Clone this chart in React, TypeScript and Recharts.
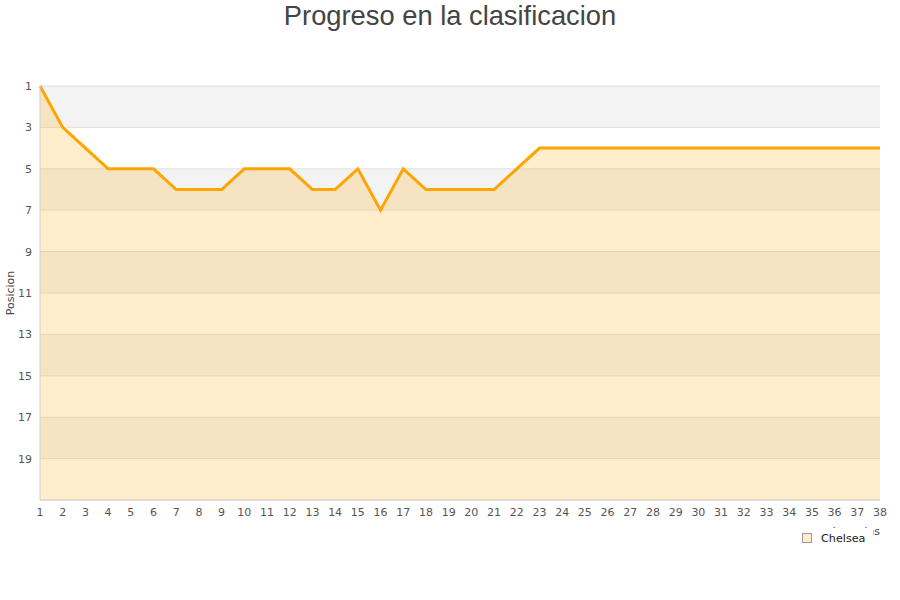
import React from 'react';
import { ComposedChart, Area, XAxis, YAxis, CartesianGrid, Legend } from 'recharts';

const jornadas: number[] = [1,2,3,4,5,6,7,8,9,10,11,12,13,14,15,16,17,18,19,20,21,22,23,24,25,26,27,28,29,30,31,32,33,34,35,36,37,38];
const chelsea: number[] = [1,3,4,5,5,5,6,6,6,5,5,5,6,6,5,7,5,6,6,6,6,5,4,4,4,4,4,4,4,4,4,4,4,4,4,4,4,4];
const yTicks: number[] = [1,3,5,7,9,11,13,15,17,19];
const seriesName = 'Chelsea';
const title = 'Progreso en la clasificacion';

const data = jornadas.map((j, i) => ({ jornada: j, pos: chelsea[i] }));

const tickStyle = { fontFamily: 'DejaVu Sans', fontSize: 11, fill: '#555' };

const renderLegend = (props: any) => {
  const payload = props.payload || [];
  return (
    <div style={{ display: 'flex', alignItems: 'center', background: '#fff', height: 20, fontFamily: 'DejaVu Sans', fontSize: 11.2, color: '#222' }}>
      {payload.map((e: any, i: number) => (
        <div key={i} style={{ display: 'flex', alignItems: 'center' }}>
          <span style={{ display: 'inline-block', width: 8, height: 8, background: '#ffedcc', border: '1px solid #999', marginRight: 9 }} />
          <span>{e.value}</span>
        </div>
      ))}
    </div>
  );
};

export default function App() {
  return (
    <div style={{ position: 'absolute', left: 0, top: 0, width: 900, height: 600, background: '#fff' }}>
      <div style={{ position: 'absolute', left: 0, top: 0, width: 900, textAlign: 'center', fontFamily: 'Liberation Sans, Arial, sans-serif', fontSize: 27.3, color: '#444', lineHeight: '32px' }}>
        {title}
      </div>
      <ComposedChart width={900} height={600} data={data} margin={{ top: 86, right: 20, bottom: 65, left: 0 }}>
        <CartesianGrid vertical={false} stroke="#e0e0e0" horizontalFill={['#f3f3f3', '#ffffff']} />
        <XAxis
          dataKey="jornada"
          type="number"
          domain={[1, 38]}
          ticks={jornadas}
          interval={0}
          height={35}
          tickLine={false}
          axisLine={{ stroke: '#d0d0d0' }}
          tick={tickStyle}
          label={{ value: 'Jornadas', position: 'insideBottomRight', offset: 0, style: { fontFamily: 'DejaVu Sans', fontSize: 11, fill: '#444' } }}
        />
        <YAxis
          type="number"
          domain={[1, 21]}
          reversed
          ticks={yTicks}
          interval={0}
          width={40}
          tickLine={false}
          axisLine={{ stroke: '#d0d0d0' }}
          tick={tickStyle}
          label={{ value: 'Posicion', angle: -90, position: 'insideLeft', offset: 10, style: { fontFamily: 'DejaVu Sans', fontSize: 11, fill: '#444', textAnchor: 'middle' } }}
        />
        <Area
          type="linear"
          dataKey="pos"
          name={seriesName}
          baseValue={21}
          stroke="#FFA500"
          strokeWidth={3}
          fill="#FFA500"
          fillOpacity={0.2}
          dot={false}
          activeDot={false}
          isAnimationActive={false}
        />
        <Legend
          layout="horizontal"
          verticalAlign="middle"
          align="center"
          content={renderLegend}
          wrapperStyle={{ left: 802, top: 528, width: 71, height: 20 }}
        />
      </ComposedChart>
    </div>
  );
}
